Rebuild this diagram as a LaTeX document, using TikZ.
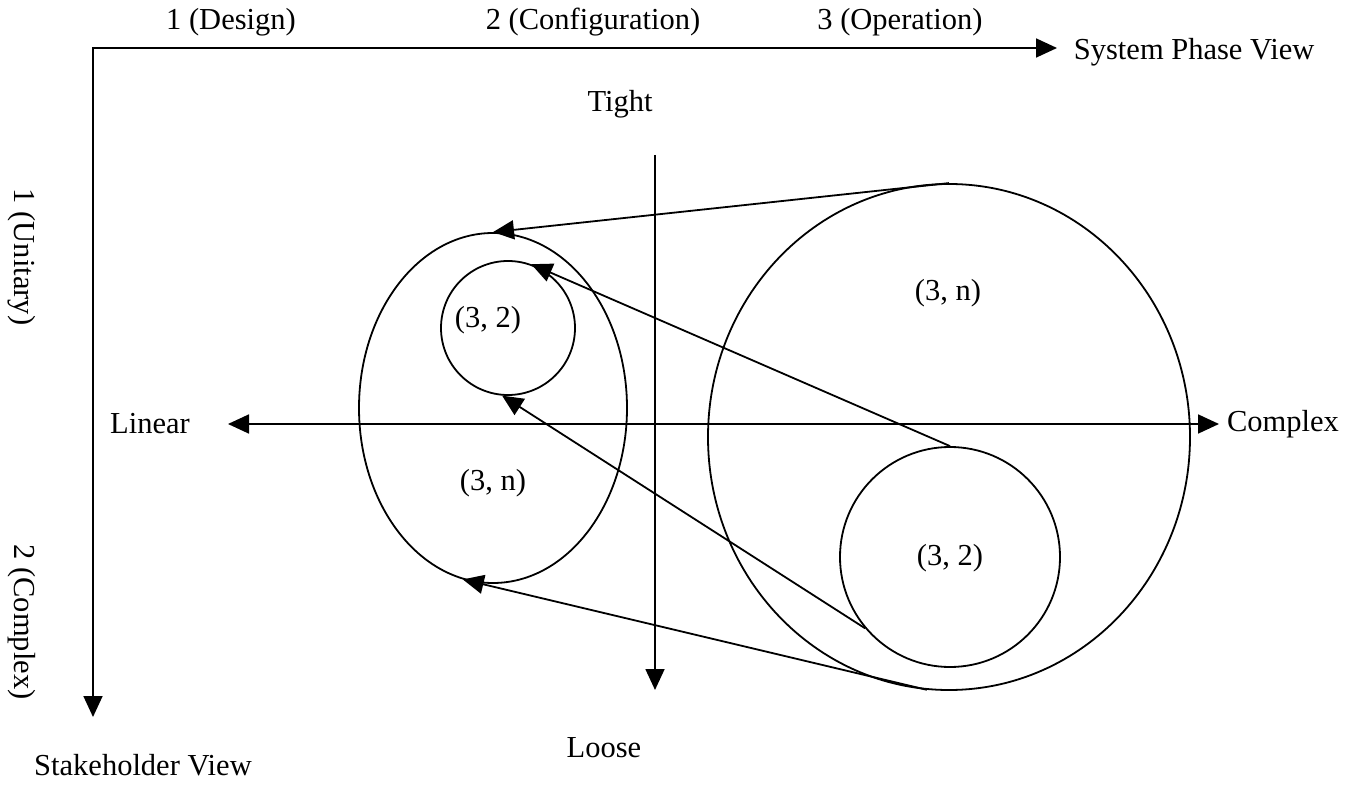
\documentclass[tikz,border=0pt]{standalone}
\usepackage{fontspec}
\setmainfont{Liberation Serif}
\usetikzlibrary{arrows.meta,shapes.geometric}
\begin{document}
\begin{tikzpicture}[x=1pt,y=-1pt, line width=1.8pt,
  tipone/.style={-{Triangle[length=21pt,width=19pt]}},
  tiptwo/.style={{Triangle[length=21pt,width=19pt]}-{Triangle[length=21pt,width=19pt]}},
  lbl/.style={font=\fontsize{30.5}{36}\selectfont, inner sep=0pt},
  oval/.style={draw, ellipse, inner sep=0pt}]
\useasboundingbox (0,0) rectangle (1365,786);
% axes
\coordinate (O) at (93,48);
\coordinate (Xend) at (1057,48);
\coordinate (Yend) at (93,717);
\draw[tiptwo, line join=miter] (Xend) -- (O) -- (Yend);
\coordinate (Ttop) at (655,155);
\coordinate (Tbot) at (655,690);
\draw[tipone] (Ttop) -- (Tbot);
\coordinate (Lend) at (228,424);
\coordinate (Rend) at (1219,424);
\draw[tiptwo] (Lend) -- (Rend);
% axis labels
\node[lbl] (d1) at (231,22) {1 (Design)};
\node[lbl] (d2) at (593,22) {2 (Configuration)};
\node[lbl] (d3) at (900,22) {3 (Operation)};
\node[lbl, anchor=west] (spv) at (1073,52) {System Phase View};
\node[lbl, rotate=-90] (u1) at (22,257) {1 (Unitary)};
\node[lbl, rotate=-90] (u2) at (22,622) {2 (Complex)};
\node[lbl] (sv) at (143,765) {Stakeholder View};
\node[lbl] (tight) at (620,104) {Tight};
\node[lbl] (loose) at (604,748) {Loose};
\node[lbl] (lin) at (150,424) {Linear};
\node[lbl] (cpx) at (1283,424) {Complex};
% shapes
\node[oval, minimum width=268pt, minimum height=350pt] (E) at (493,408) {};
\node[oval, minimum width=134pt, minimum height=134pt] (s1) at (508,328) {};
\node[oval, minimum width=482pt, minimum height=506pt] (BC) at (949,437) {};
\node[oval, minimum width=220pt, minimum height=220pt] (s2) at (950,557) {};
\node[lbl] (t1) at (488,320) {(3, 2)};
\node[lbl] (t2) at (493,483) {(3, n)};
\node[lbl] (t3) at (948,293) {(3, n)};
\node[lbl] (t4) at (950,558) {(3, 2)};
% connectors
\draw[tipone] (BC.north) -- (E.north);
\draw[tipone] (s2.north) -- (s1.70);
\draw[tipone] (s2.220) -- (s1.265);
\draw[tipone] (BC.265) -- (E.260);
\end{tikzpicture}
\end{document}
